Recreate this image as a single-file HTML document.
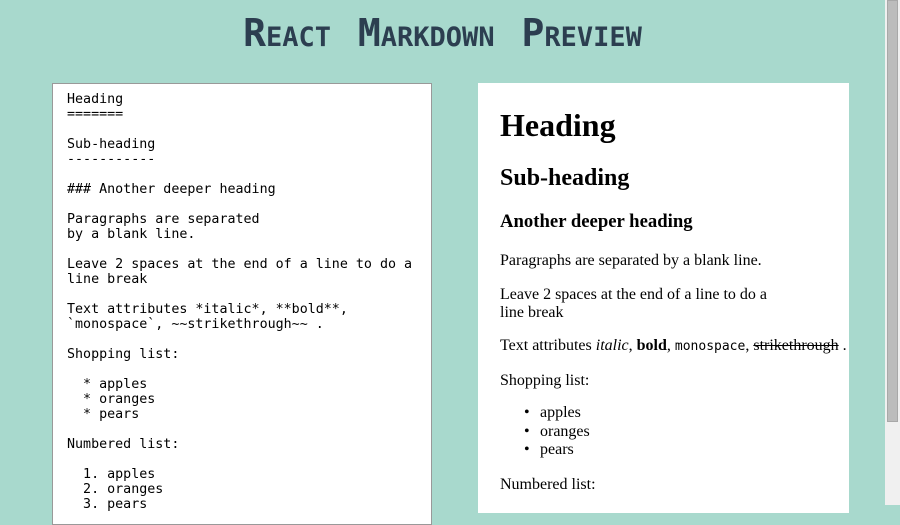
<!DOCTYPE html>
<html><head><meta charset="utf-8"><style>
html,body{margin:0;padding:0;width:900px;height:505px;overflow:hidden;background:#a8d9cd;}
.t{position:absolute;left:0;width:885px;top:11px;text-align:center;font-family:"DejaVu Sans Mono",monospace;font-weight:bold;font-variant:small-caps;font-size:38px;color:#2c3e50;letter-spacing:0px;word-spacing:4px;}
.lp{position:absolute;left:52px;top:83px;width:378px;height:440px;background:#fff;border:1px solid #999;}
.lp pre{margin:0;position:absolute;left:14px;top:8px;font-family:"DejaVu Sans Mono",monospace;font-size:13.33px;line-height:15px;color:#000;}
.rp{position:absolute;left:478px;top:83px;width:371px;height:430px;background:#fff;font-family:"Liberation Serif",serif;color:#000;}
.rp div{position:absolute;left:22px;white-space:nowrap;font-size:16px;line-height:18px;}
.sb{position:absolute;left:885px;top:0;width:15px;height:505px;background:#f0f0f0;}
.th{position:absolute;left:887px;top:0;width:11px;height:422px;background:#bcbcbc;border:1px solid #a8a8a8;box-sizing:border-box;}
code{font-family:"DejaVu Sans Mono",monospace;font-size:13px;}
</style></head><body>
<div class="t">React Markdown Preview</div>
<div class="lp"><pre>Heading
=======

Sub-heading
-----------

### Another deeper heading

Paragraphs are separated
by a blank line.

Leave 2 spaces at the end of a line to do a
line break

Text attributes *italic*, **bold**,
`monospace`, ~~strikethrough~~ .

Shopping list:

  * apples
  * oranges
  * pears

Numbered list:

  1. apples
  2. oranges
  3. pears</pre></div>
<div class="rp">
<div style="top:23px;font-size:32px;line-height:38px;font-weight:bold">Heading</div>
<div style="top:81px;font-size:24px;line-height:28px;font-weight:bold">Sub-heading</div>
<div style="top:128px;font-size:18.72px;line-height:22px;font-weight:bold">Another deeper heading</div>
<div style="top:169px">Paragraphs are separated by a blank line.</div>
<div style="top:203px">Leave 2 spaces at the end of a line to do a<br>line break</div>
<div style="top:254px">Text attributes <i>italic</i>, <b>bold</b>, <code>monospace</code>, <s>strikethrough</s> .</div>
<div style="top:289px">Shopping list:</div>
<div style="top:321px;left:62px;line-height:18.5px">apples<br>oranges<br>pears</div>
<div style="top:321px;left:46px;line-height:18.5px">•<br>•<br>•</div>
<div style="top:393px">Numbered list:</div>
</div>
<div class="sb"></div><div class="th"></div>
</body></html>
